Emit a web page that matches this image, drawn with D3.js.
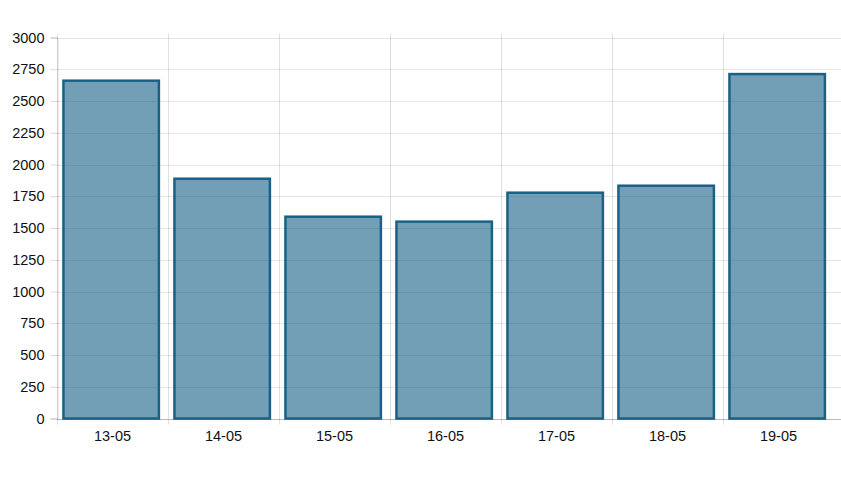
<!DOCTYPE html>
<html>
<head>
<meta charset="utf-8">
<script src="https://cdn.jsdelivr.net/npm/d3@7"></script>
<style>
  body { margin: 0; background: #fff; }
  svg text { font-family: "Liberation Sans", Arial, sans-serif; font-size: 14.5px; fill: #111; }
</style>
</head>
<body>
<svg id="chart" width="841" height="479"></svg>
<script>
// data
let days = ["13-05", "14-05", "15-05", "16-05", "17-05", "18-05", "19-05"];
let counts = [2660, 1888, 1589, 1550, 1778, 1833, 2712];
let yTicks = [0, 250, 500, 750, 1000, 1250, 1500, 1750, 2000, 2250, 2500, 2750, 3000];

let margin = { top: 37.5, left: 57, bottom: 418.5, right: 834 };
let fullRight = 841;

let svg = d3.select("#chart");

let x = d3.scaleBand().domain(days).range([margin.left, margin.right]).padding(0);
let y = d3.scaleLinear().domain([0, 3000]).range([margin.bottom, margin.top]);

// horizontal grid
svg.append("g").selectAll("line").data(yTicks).enter().append("line")
  .attr("x1", margin.left).attr("x2", fullRight)
  .attr("y1", d => Math.round(y(d)) + 0.5).attr("y2", d => Math.round(y(d)) + 0.5)
  .attr("stroke", "rgba(0,0,0,0.1)");

// vertical grid at category edges
let edges = days.map(d => x(d));
svg.append("g").selectAll("line").data(edges).enter().append("line")
  .attr("x1", d => Math.round(d) + 0.5).attr("x2", d => Math.round(d) + 0.5)
  .attr("y1", margin.top - 4).attr("y2", margin.bottom + 6)
  .attr("stroke", "rgba(0,0,0,0.12)");

// bars
let bw = x.bandwidth();
svg.append("g").selectAll("rect").data(counts).enter().append("rect")
  .attr("x", (d, i) => x(days[i]) + bw * 0.058)
  .attr("width", bw * 0.86)
  .attr("y", d => y(d))
  .attr("height", d => y(0) - y(d))
  .attr("fill", "rgba(27,100,136,0.62)")
  .attr("stroke", "#1b6185")
  .attr("stroke-width", 2.5);

// axes
let yAxis = d3.axisLeft(y).tickValues(yTicks).tickFormat(d3.format("d")).tickSize(7).tickPadding(6);
let gy = svg.append("g").attr("transform", "translate(" + (margin.left + 0.5) + ",0)").call(yAxis);
gy.select(".domain").attr("stroke", "rgba(0,0,0,0.15)");
gy.selectAll(".tick line").attr("stroke", "rgba(0,0,0,0.15)");
gy.selectAll("text").attr("fill", "#111");

let xAxis = d3.axisBottom(x).tickSize(0).tickPadding(11);
let gx = svg.append("g").attr("transform", "translate(0," + (Math.round(margin.bottom) + 0.5) + ")").call(xAxis);
gx.select(".domain").remove();
gx.selectAll("text").attr("fill", "#111");

svg.append("line")
  .attr("x1", margin.left).attr("x2", fullRight)
  .attr("y1", Math.round(margin.bottom) + 0.5).attr("y2", Math.round(margin.bottom) + 0.5)
  .attr("stroke", "rgba(0,0,0,0.18)");
</script>
</body>
</html>
